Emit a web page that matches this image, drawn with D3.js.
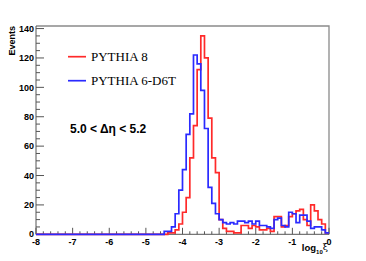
<!DOCTYPE html>
<html>
<head>
<meta charset="utf-8">
<script src="https://cdn.jsdelivr.net/npm/d3@7"></script>
<style>
  body { margin: 0; background: #fff; }
  svg text { font-family: "Liberation Sans", Arial, sans-serif; }
</style>
</head>
<body>
<div id="chart"></div>
<script>
// histogram: 80 bins of 0.1 from -8 to 0
const xMin = -8, xMax = 0, binWidth = 0.1

const pythia8 = [
  0,0,0,0,0,0,0,0,0,0,
  0,0,0,0,0,0,0,0,0,0,
  0,0,0,0,0,0,0,0,0,0,
  0,0,0,0,0,0,1,1,3,7,
  15,25,52,74,112,135,120,79,52,42,
  10,4,2,2,1,1,6,6,4,6,
  5,3,3,4,2,12,12,5,6,12,
  14,16,17,10,6,20,16,10,7,1
]

const pythia6 = [
  0,0,0,0,0,0,0,0,0,0,
  0,0,0,0,0,0,0,0,0,0,
  0,0,0,0,0,0,0,0,0,0,
  0,0,0,0,0,2,2,5,14,30,
  44,68,82,122,116,98,72,32,21,14,
  10,8,7,8,7,9,9,8,9,7,
  9,6,6,5,4,10,11,6,5,15,
  14,8,13,13,9,4,5,5,3,1
]

const yTicks = [0, 20, 40, 60, 80, 100, 120, 140]
const xTicks = [-8, -7, -6, -5, -4, -3, -2, -1, 0]

const width = 366, height = 261
const svg = d3.select("#chart").append("svg")
    .attr("width", width).attr("height", height)

const x = d3.scaleLinear().domain([xMin, xMax]).range([36, 329])
const y = d3.scaleLinear().domain([0, 135 * 1.05]).range([234.3, 26])

// frame
svg.append("path")
    .attr("d", `M${x(xMin)},${y.range()[1]}H${x(xMax)}V${y(0)}`)
    .attr("fill", "none").attr("stroke", "#8a8a8a").attr("stroke-width", 1.3)

// y axis, ticks pointing inward
const gy = svg.append("g").attr("transform", `translate(${x(xMin)},0)`)
gy.append("line").attr("y1", y(0)).attr("y2", y.range()[1])
    .attr("stroke", "#555").attr("stroke-width", 1)
gy.selectAll(".minor").data(d3.range(0, 141, 5).filter(v => v % 20 != 0))
  .join("line")
    .attr("x1", 0).attr("x2", 4)
    .attr("y1", d => y(d)).attr("y2", d => y(d))
    .attr("stroke", "#555")
gy.selectAll(".major").data(yTicks)
  .join("line")
    .attr("x1", 0).attr("x2", 8)
    .attr("y1", d => y(d)).attr("y2", d => y(d))
    .attr("stroke", "#555")
gy.selectAll("text").data(yTicks)
  .join("text")
    .attr("x", -2).attr("y", d => y(d) + (d == 0 ? 2.4 : 3.3))
    .attr("text-anchor", "end")
    .style("font-size", "9px").style("font-weight", "bold")
    .text(d => d)

svg.append("text")
    .attr("transform", `translate(15,${y.range()[1]}) rotate(-90)`)
    .attr("text-anchor", "end")
    .style("font-size", "9px").style("font-weight", "bold")
    .text("Events")

// x axis, ticks pointing up
const gx = svg.append("g").attr("transform", `translate(0,${y(0)})`)
gx.append("line").attr("x1", x(xMin)).attr("x2", x(xMax)).attr("stroke", "#555")
gx.selectAll(".minor").data(d3.range(-80, 1, 2).filter(v => v % 10 != 0))
  .join("line")
    .attr("x1", d => x(d / 10)).attr("x2", d => x(d / 10))
    .attr("y1", 0).attr("y2", -3)
    .attr("stroke", "#555")
gx.selectAll(".major").data(xTicks)
  .join("line")
    .attr("x1", d => x(d)).attr("x2", d => x(d))
    .attr("y1", 0).attr("y2", -6.5)
    .attr("stroke", "#555")
gx.selectAll("text").data(xTicks)
  .join("text")
    .attr("x", d => x(d)).attr("y", 10.6)
    .attr("text-anchor", "middle")
    .style("font-size", "9px").style("font-weight", "bold")
    .text(d => d)

const xt = svg.append("text")
    .attr("x", 328).attr("y", 251)
    .attr("text-anchor", "end")
    .style("font-size", "9.5px").style("font-weight", "bold")
xt.append("tspan").text("log")
xt.append("tspan").attr("dy", 2.5).style("font-size", "6px").text("10")
xt.append("tspan").attr("dy", -3.5).style("font-weight", "normal").style("font-family", "DejaVu Serif").text("ξ")

// histogram outlines
function stepPath(values) {
  let d = `M${x(xMin)},${y(values[0])}`
  values.forEach((v, i) => {
    const x0 = xMin + i * binWidth
    d += `H${x(x0)}V${y(v)}H${x(x0 + binWidth)}`
  })
  return d
}

svg.append("path").attr("d", stepPath(pythia8))
    .attr("fill", "none").attr("stroke", "#ff2a2a").attr("stroke-width", 1.7)
svg.append("path").attr("d", stepPath(pythia6))
    .attr("fill", "none").attr("stroke", "#2a2aff").attr("stroke-width", 1.7)

// legend
const legend = [
  {name: "PYTHIA 8", color: "#ff2a2a", y: 56.7},
  {name: "PYTHIA 6-D6T", color: "#2a2aff", y: 80.7}
]
legend.forEach(l => {
  svg.append("line").attr("x1", 68).attr("x2", 86).attr("y1", l.y).attr("y2", l.y)
      .attr("stroke", l.color).attr("stroke-width", 1.7)
  svg.append("text").attr("x", 91).attr("y", l.y + 4.3)
      .style("font-family", "'Liberation Serif', 'Times New Roman', serif")
      .style("font-size", "13px")
      .text(l.name)
})

svg.append("text").attr("x", 70).attr("y", 133)
    .style("font-size", "12px").style("font-weight", "bold")
    .text("5.0 < Δη < 5.2")
</script>
</body>
</html>
